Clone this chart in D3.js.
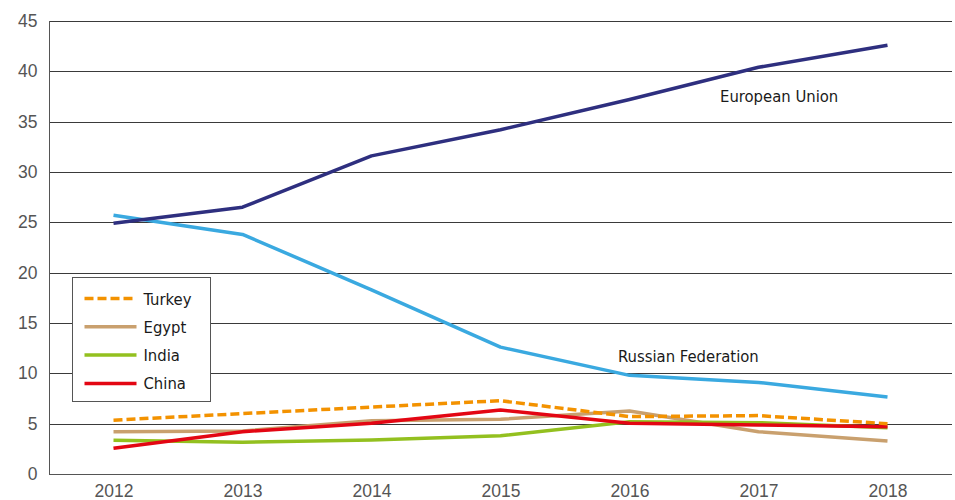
<!DOCTYPE html>
<html>
<head>
<meta charset="utf-8">
<script src="https://cdn.jsdelivr.net/npm/d3@7"></script>
<style>
  html, body { margin: 0; padding: 0; background: #fff; }
  svg { display: block; font-family: "DejaVu Sans Condensed", "DejaVu Sans", sans-serif; }
</style>
</head>
<body>
<div id="chart"></div>
<script>
  const years = [2012, 2013, 2014, 2015, 2016, 2017, 2018];
  const yTicks = [0, 5, 10, 15, 20, 25, 30, 35, 40, 45];

  const euValues = [24.9, 26.5, 31.6, 34.2, 37.2, 40.4, 42.6];
  const russiaValues = [25.7, 23.8, 18.3, 12.6, 9.8, 9.1, 7.65];
  const turkeyValues = [5.35, 6.0, 6.65, 7.28, 5.7, 5.8, 5.0];
  const egyptValues = [4.2, 4.27, 5.3, 5.43, 6.26, 4.2, 3.28];
  const indiaValues = [3.35, 3.15, 3.38, 3.8, 5.2, 5.1, 4.6];
  const chinaValues = [2.55, 4.2, 5.03, 6.36, 5.03, 4.87, 4.7];

  const series = [
    { name: "Russian Federation", values: russiaValues, color: "#3aa9e0", dash: null },
    { name: "European Union", values: euValues, color: "#2e2f7f", dash: null },
    { name: "Egypt", values: egyptValues, color: "#c9a06e", dash: null },
    { name: "India", values: indiaValues, color: "#93c01f", dash: null },
    { name: "China", values: chinaValues, color: "#e30613", dash: null },
    { name: "Turkey", values: turkeyValues, color: "#f39200", dash: "9,4" }
  ];
  const legendItems = ["Turkey", "Egypt", "India", "China"];

  const width = 955;
  const height = 500;
  const margin = { top: 21, right: 3, bottom: 26, left: 49 };

  const svg = d3.select("#chart").append("svg").attr("width", width).attr("height", height);

  const x = d3.scalePoint().domain(years).range([margin.left, width - margin.right]).padding(0.5);
  const y = d3.scaleLinear().domain([0, 45]).range([height - margin.bottom, margin.top]);

  // grid
  svg.append("g")
    .selectAll("line")
    .data(yTicks.filter(function (d) { return d > 0; }))
    .enter()
    .append("line")
    .attr("x1", margin.left)
    .attr("x2", width - margin.right)
    .attr("y1", function (d) { return Math.round(y(d)) + 0.5; })
    .attr("y2", function (d) { return Math.round(y(d)) + 0.5; })
    .attr("stroke", "#3a3a3a")
    .attr("stroke-width", 1);

  // axes
  svg.append("g")
    .attr("transform", "translate(" + (margin.left + 0.5) + ",0)")
    .call(d3.axisLeft(y).tickValues(yTicks).tickSize(0).tickPadding(12))
    .call(function (g) {
      g.select(".domain").attr("stroke", "#555").attr("d", "M0," + y(45) + "V" + (Math.round(y(0)) + 0.5));
      g.selectAll("text").attr("fill", "#555").attr("font-size", 17.5).attr("font-family", null);
    });

  svg.append("g")
    .attr("transform", "translate(0," + (Math.round(y(0)) + 0.5) + ")")
    .call(d3.axisBottom(x).tickSize(0).tickPadding(10))
    .call(function (g) {
      g.select(".domain").attr("stroke", "#555").attr("d", "M" + margin.left + ",0H" + (width - margin.right));
      g.selectAll("text").attr("fill", "#555").attr("font-size", 17.5).attr("font-family", null);
    });

  const line = d3.line()
    .x(function (d, i) { return x(years[i]); })
    .y(function (d) { return y(d); });

  svg.append("g")
    .selectAll("path")
    .data(series)
    .enter()
    .append("path")
    .attr("d", function (s) { return line(s.values); })
    .attr("fill", "none")
    .attr("stroke", function (s) { return s.color; })
    .attr("stroke-width", 3.5)
    .attr("stroke-linejoin", "round")
    .attr("stroke-dasharray", function (s) { return s.dash; });

  // labels
  svg.append("text").attr("x", 720).attr("y", 102).attr("font-size", 16.5).attr("fill", "#1a1a1a").text("European Union");
  svg.append("text").attr("x", 618).attr("y", 362).attr("font-size", 16.5).attr("fill", "#1a1a1a").text("Russian Federation");

  // legend
  const legend = svg.append("g").attr("transform", "translate(72.5,277.5)");
  legend.append("rect")
    .attr("width", 138)
    .attr("height", 124)
    .attr("fill", "#fff")
    .attr("stroke", "#555")
    .attr("stroke-width", 1);

  const rows = legend.selectAll("g.item")
    .data(legendItems.map(function (n) { return series.find(function (s) { return s.name === n; }); }))
    .enter()
    .append("g")
    .attr("class", "item")
    .attr("transform", function (_, i) { return "translate(0," + (21 + i * 28.3) + ")"; });

  rows.append("line")
    .attr("x1", 12)
    .attr("x2", 64)
    .attr("stroke", function (s) { return s.color; })
    .attr("stroke-width", 3.5)
    .attr("stroke-dasharray", function (s) { return s.dash; });

  rows.append("text")
    .attr("x", 71)
    .attr("y", 6)
    .attr("font-size", 16.5)
    .attr("fill", "#1a1a1a")
    .text(function (s) { return s.name; });
</script>
</body>
</html>
